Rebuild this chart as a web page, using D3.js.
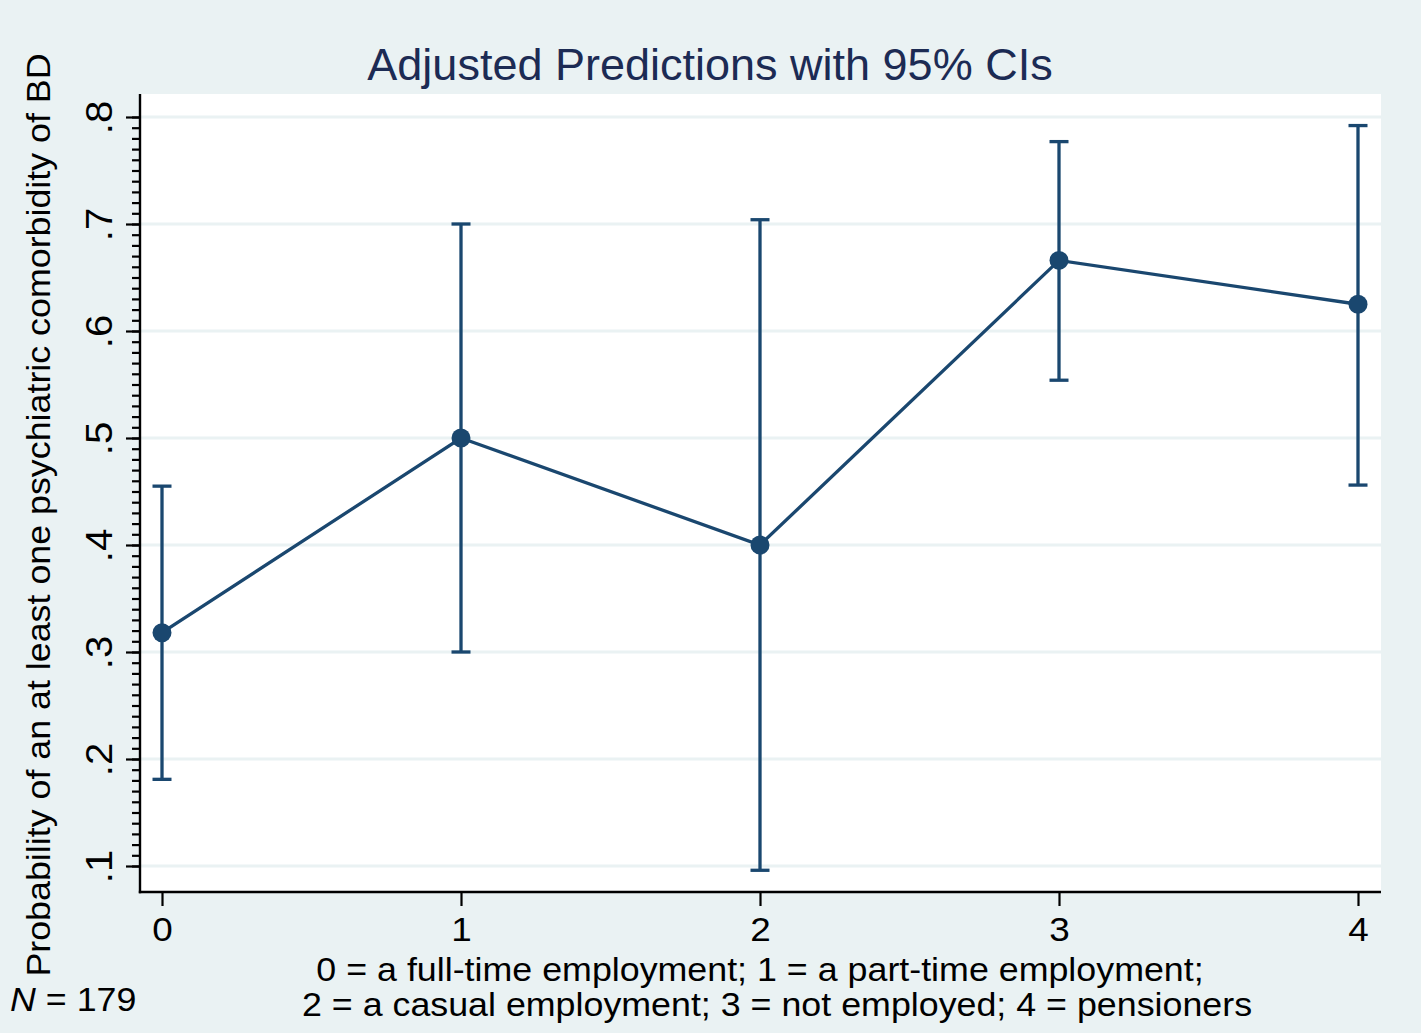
<!DOCTYPE html>
<html>
<head>
<meta charset="utf-8">
<script src="https://cdn.jsdelivr.net/npm/d3@7"></script>
<style>
  html, body { margin: 0; padding: 0; background: #EAF2F3; }
  svg { display: block; }
  text { font-family: "Liberation Sans", Arial, Helvetica, sans-serif; }
</style>
</head>
<body>
<svg id="chart" width="1421" height="1033"></svg>
<script>
// ---- data ----
const categories = [0, 1, 2, 3, 4];
const margins = [0.318, 0.500, 0.400, 0.666, 0.625];
const ciLow   = [0.181, 0.300, 0.096, 0.554, 0.456];
const ciHigh  = [0.455, 0.700, 0.704, 0.777, 0.792];
const yTicks = [0.1, 0.2, 0.3, 0.4, 0.5, 0.6, 0.7, 0.8];
const yTickLabels = [".1", ".2", ".3", ".4", ".5", ".6", ".7", ".8"];
const xTickLabels = ["0", "1", "2", "3", "4"];
const titleText = "Adjusted Predictions with 95% CIs";
const yTitle = "Probability of an at least one psychiatric comorbidity of BD";
const xTitleLines = ["0 = a full-time employment; 1 = a part-time employment;",
                     "2 = a casual employment; 3 = not employed; 4 = pensioners"];
const noteN = 179;

// ---- layout ----
const W = 1421, H = 1033;
const plot = { left: 140, right: 1381, top: 94, bottom: 892 };
const navy = "#1a476f";
const bg = "#EAF2F3";
const wide = 1.085; // horizontal stretch to mimic the wider Helvetica rendering

const svg = d3.select("#chart");
svg.append("rect").attr("width", W).attr("height", H).attr("fill", bg);

const x = d3.scaleLinear().domain([0, 4]).range([162, 1358]);
const y = d3.scaleLinear().domain([0.1, 0.8]).range([866, 117]);

// plot region
svg.append("rect")
  .attr("x", plot.left).attr("y", plot.top)
  .attr("width", plot.right - plot.left).attr("height", plot.bottom - plot.top)
  .attr("fill", "#ffffff");

// gridlines
svg.append("g").selectAll("line").data(yTicks).join("line")
  .attr("x1", plot.left).attr("x2", plot.right)
  .attr("y1", d => y(d)).attr("y2", d => y(d))
  .attr("stroke", bg).attr("stroke-width", 3);

// title
svg.append("text")
  .attr("x", 710).attr("y", 80)
  .attr("text-anchor", "middle")
  .attr("font-size", 45).attr("fill", "#1c2b54")
  .text(titleText);

// y axis minor ticks
const minor = d3.range(10, 81).map(d => d / 100);
const yMinor = svg.append("g").attr("transform", `translate(${plot.left},0)`)
  .call(d3.axisLeft(y).tickValues(minor).tickSize(8).tickFormat(""));
yMinor.select(".domain").remove();
yMinor.selectAll(".tick line").attr("stroke", "#000").attr("stroke-width", 2.2);

// y axis major
const yAxis = svg.append("g").attr("transform", `translate(${plot.left},0)`)
  .call(d3.axisLeft(y).tickValues(yTicks).tickSize(14).tickSizeOuter(0)
        .tickFormat((d, i) => yTickLabels[i]));
yAxis.select(".domain").remove();
yAxis.selectAll(".tick line").attr("stroke", "#000").attr("stroke-width", 2.2);
yAxis.selectAll(".tick text")
  .attr("x", null).attr("dy", null)
  .attr("transform", `translate(-28,0) rotate(-90) scale(${wide},1)`)
  .attr("text-anchor", "middle")
  .attr("font-size", 37).attr("fill", "#000")
  .style("font-family", '"Liberation Sans", Arial, sans-serif');

// x axis
const xAxis = svg.append("g").attr("transform", `translate(0,${plot.bottom})`)
  .call(d3.axisBottom(x).tickValues(categories).tickSize(14).tickSizeOuter(0)
        .tickPadding(11).tickFormat((d, i) => xTickLabels[i]));
xAxis.select(".domain").remove();
xAxis.selectAll(".tick line").attr("stroke", "#000").attr("stroke-width", 2.2);
xAxis.selectAll(".tick text")
  .attr("x", 0)
  .attr("transform", `scale(${wide},1)`)
  .attr("font-size", 34).attr("fill", "#000")
  .style("font-family", '"Liberation Sans", Arial, sans-serif');

// axis lines
svg.append("line").attr("x1", plot.left).attr("x2", plot.left)
  .attr("y1", plot.top).attr("y2", plot.bottom + 1.2)
  .attr("stroke", "#000").attr("stroke-width", 2.4);
svg.append("line").attr("x1", plot.left - 1.2).attr("x2", plot.right)
  .attr("y1", plot.bottom).attr("y2", plot.bottom)
  .attr("stroke", "#000").attr("stroke-width", 2.4);

// axis titles
svg.append("text")
  .attr("transform", `translate(50,${(55 + 975) / 2}) rotate(-90) scale(${wide},1)`)
  .attr("text-anchor", "middle")
  .attr("font-size", 33).attr("fill", "#000")
  .text(yTitle);

svg.append("text")
  .attr("transform", `translate(760,981) scale(${wide},1)`)
  .attr("text-anchor", "middle").attr("font-size", 33)
  .attr("fill", "#000")
  .text(xTitleLines[0]);
svg.append("text")
  .attr("transform", `translate(777,1016) scale(${wide},1)`)
  .attr("text-anchor", "middle").attr("font-size", 33)
  .attr("fill", "#000")
  .text(xTitleLines[1]);

// note
const note = svg.append("text")
  .attr("transform", `translate(10,1011) scale(${wide},1)`)
  .attr("font-size", 33).attr("fill", "#000");
note.append("tspan").attr("font-style", "italic").text("N");
note.append("tspan").text(" = " + noteN);

// data
const pts = categories.map((c, i) => ({ c, m: margins[i], lo: ciLow[i], hi: ciHigh[i] }));
const g = svg.append("g");
const lw = 3.3;

// CI bars
g.selectAll("line.ci").data(pts).join("line").attr("class", "ci")
  .attr("x1", d => x(d.c)).attr("x2", d => x(d.c))
  .attr("y1", d => y(d.lo)).attr("y2", d => y(d.hi))
  .attr("stroke", navy).attr("stroke-width", lw);
const capW = 9.5;
g.selectAll("line.caplo").data(pts).join("line").attr("class", "caplo")
  .attr("x1", d => x(d.c) - capW).attr("x2", d => x(d.c) + capW)
  .attr("y1", d => y(d.lo)).attr("y2", d => y(d.lo))
  .attr("stroke", navy).attr("stroke-width", lw);
g.selectAll("line.caphi").data(pts).join("line").attr("class", "caphi")
  .attr("x1", d => x(d.c) - capW).attr("x2", d => x(d.c) + capW)
  .attr("y1", d => y(d.hi)).attr("y2", d => y(d.hi))
  .attr("stroke", navy).attr("stroke-width", lw);

// connecting line
g.append("path").datum(pts)
  .attr("d", d3.line().x(d => x(d.c)).y(d => y(d.m)))
  .attr("fill", "none").attr("stroke", navy).attr("stroke-width", lw);

// markers
g.selectAll("circle").data(pts).join("circle")
  .attr("cx", d => x(d.c)).attr("cy", d => y(d.m)).attr("r", 9.5)
  .attr("fill", navy);
</script>
</body>
</html>
